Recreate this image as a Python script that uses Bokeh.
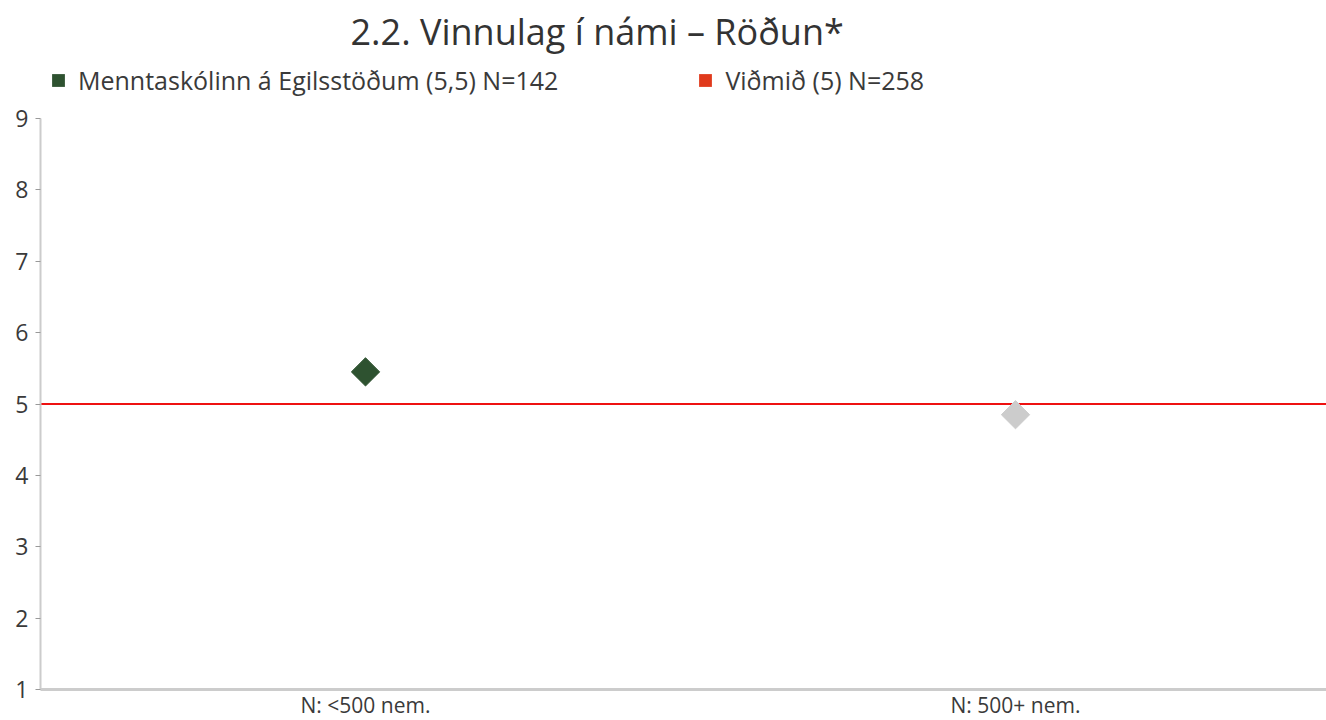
import math
from bokeh.plotting import figure
from bokeh.models import (Range1d, FixedTicker, Legend, LegendItem, Label)
from bokeh.embed import file_html
from bokeh.resources import INLINE

# ---- data ----
categories = ["N: <500 nem.", "N: 500+ nem."]
school_values = [5.45, None]
other_values = [None, 4.85]
benchmark = 5.0
y_ticks = [1, 2, 3, 4, 5, 6, 7, 8, 9]
school_label = "Menntaskólinn á Egilsstöðum (5,5) N=142"
bench_label = "Viðmið (5) N=258"
title_text = "2.2. Vinnulag í námi – Röðun*"

FONT = "Open Sans"
GREEN = "#2e5230"
GRAY = "#cccccc"
RED = "#ee1111"
LEG_RED = "#e03a1c"
TXT = "#3a3a3a"

W, H = 1326, 720
# plot geometry (pixels within the figure)
AX_X = 40          # y axis position
PX_PER_X = 650
Y_TOP_PX, Y_BOT_PX = 118, 689   # pixel rows of y=9 and y=1
ppy = (Y_BOT_PX - Y_TOP_PX) / (y_ticks[-1] - y_ticks[0])

x_start = -AX_X / PX_PER_X
x_end = (W - AX_X) / PX_PER_X
y_end = y_ticks[-1] + Y_TOP_PX / ppy
y_start = y_ticks[0] - (H - Y_BOT_PX) / ppy

xpos = [i + 0.5 for i in range(len(categories))]

p = figure(width=W, height=H, output_backend="svg", toolbar_location=None,
           x_range=Range1d(x_start, x_end), y_range=Range1d(y_start, y_end),
           min_border=0, title_location=None)
p.background_fill_color = "white"
p.outline_line_color = None
p.xgrid.visible = False
p.ygrid.visible = False

# title
p.add_layout(Label(x=350, y=H - 31, x_units="screen", y_units="screen",
                   text=title_text, text_font=FONT, text_font_size="36px",
                   text_color="#333333", text_baseline="middle", text_align="left"))

# benchmark line from the y axis to the right
p.ray(x=[0], y=[benchmark], length=0, angle=0, line_color=RED, line_width=2)

sx = [x for x, v in zip(xpos, school_values) if v is not None]
sy = [v for v in school_values if v is not None]
ox = [x for x, v in zip(xpos, other_values) if v is not None]
oy = [v for v in other_values if v is not None]

p.scatter(ox, oy, marker="square", angle=math.pi / 4, size=20,
          fill_color=GRAY, line_color=GRAY)
p.scatter(sx, sy, marker="square", angle=math.pi / 4, size=20,
          fill_color=GREEN, line_color=GREEN)

# legend glyphs (not drawn in the plot)
nan = float("nan")
lg1 = p.rect([nan], [nan], width=1, height=1, fill_color=GREEN, line_color=None)
lg2 = p.rect([nan], [nan], width=1, height=1, fill_color=LEG_RED, line_color=None)
legend = Legend(items=[LegendItem(label=school_label, renderers=[lg1]),
                       LegendItem(label=bench_label, renderers=[lg2])],
                orientation="horizontal", location=(50, H - 80 - 17),
                glyph_width=16, glyph_height=16, label_standoff=12,
                label_text_font=FONT, label_text_font_size="25px",
                label_text_color=TXT, spacing=139,
                border_line_color=None, background_fill_alpha=0,
                padding=0, margin=0)
p.add_layout(legend)

# axes
p.xaxis.fixed_location = y_ticks[0]
p.xaxis.bounds = (0, x_end)
p.xaxis.ticker = FixedTicker(ticks=xpos)
p.xaxis.major_label_overrides = {x: c for x, c in zip(xpos, categories)}
p.xaxis.axis_line_color = "#cccccc"
p.xaxis.axis_line_width = 3
p.xaxis.major_tick_line_color = None
p.xaxis.major_tick_out = 0
p.xaxis.major_tick_in = 0
p.xaxis.minor_tick_line_color = None
p.xaxis.major_label_text_font = FONT
p.xaxis.major_label_text_font_size = "21px"
p.xaxis.major_label_text_color = TXT
p.xaxis.major_label_standoff = 1

p.yaxis.fixed_location = 0
p.yaxis.bounds = (y_ticks[0], y_ticks[-1])
p.yaxis.ticker = FixedTicker(ticks=y_ticks)
p.yaxis.axis_line_color = "#cccccc"
p.yaxis.axis_line_width = 2
p.yaxis.major_tick_line_color = "#999999"
p.yaxis.major_tick_out = 5
p.yaxis.major_tick_in = 0
p.yaxis.minor_tick_line_color = None
p.yaxis.major_label_text_font = FONT
p.yaxis.major_label_text_font_size = "23px"
p.yaxis.major_label_text_color = TXT
p.yaxis.major_label_standoff = 7

open("out.html", "w").write(file_html(p, INLINE))
